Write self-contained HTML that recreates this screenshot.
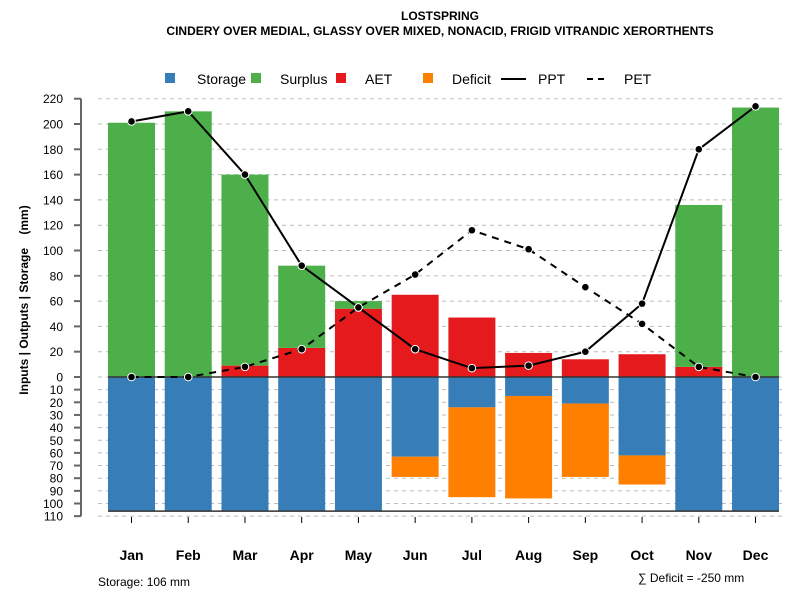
<!DOCTYPE html>
<html><head><meta charset="utf-8"><style>
body{margin:0;background:#fff}
svg text{font-family:"Liberation Sans",sans-serif}
</style></head><body>
<svg id="c" width="800" height="600" xmlns="http://www.w3.org/2000/svg">
<text x="440" y="20" text-anchor="middle" font-size="12" font-weight="bold">LOSTSPRING</text>
<text x="440" y="35" text-anchor="middle" font-size="12" font-weight="bold">CINDERY OVER MEDIAL, GLASSY OVER MIXED, NONACID, FRIGID VITRANDIC XERORTHENTS</text>
<g font-size="14">
<rect x="165" y="73" width="10" height="10" fill="#377eb8"/>
<text x="197" y="84">Storage</text>
<rect x="251" y="73" width="10" height="10" fill="#4daf4a"/>
<text x="280" y="84">Surplus</text>
<rect x="336" y="73" width="10" height="10" fill="#e41a1c"/>
<text x="365" y="84">AET</text>
<rect x="423" y="73" width="10" height="10" fill="#ff7f00"/>
<text x="452" y="84">Deficit</text>
<line x1="501" y1="79" x2="526" y2="79" stroke="#000" stroke-width="2"/>
<text x="538" y="84">PPT</text>
<line x1="587" y1="79" x2="609" y2="79" stroke="#000" stroke-width="2" stroke-dasharray="6,5"/>
<text x="624" y="84">PET</text>
</g>
<text transform="translate(28,300) rotate(-90)" text-anchor="middle" font-size="12" font-weight="bold">Inputs | Outputs | Storage &#160;&#160;&#160;(mm)</text>
<text x="98" y="586" font-size="12">Storage: 106 mm</text>
<text x="638" y="582" font-size="12">∑ Deficit = -250 mm</text>
<g id="grid"></g><g id="bars"></g><g id="lines"></g><g id="axes"></g>
</svg>
<script>
const months=["Jan","Feb","Mar","Apr","May","Jun","Jul","Aug","Sep","Oct","Nov","Dec"];
const aet=[0,0,9,23,54,65,47,19,14,18,8,0];
const surplus=[201,210,151,65,6,0,0,0,0,0,128,213];
const storage=[106,106,106,106,106,63,24,15,21,62,106,106];
const deficit=[0,0,0,0,0,16,71,81,58,23,0,0];
const ppt=[202,210,160,88,55,22,7,9,20,58,180,214];
const pet=[0,0,8,22,55,81,116,101,71,42,8,0];
const posTicks=[0,20,40,60,80,100,120,140,160,180,200,220];
const negTicks=[10,20,30,40,50,60,70,80,90,100,110];
const NS="http://www.w3.org/2000/svg";
const y0=377,k=1.265;
const yv=v=>y0-v*k;
const xc=i=>131.5+i*56.73;
const bw=47;
function mk(p,t,a){const e=document.createElementNS(NS,t);for(const q in a)e.setAttribute(q,a[q]);p.appendChild(e);return e;}
const G=document.getElementById('grid'),B=document.getElementById('bars'),L=document.getElementById('lines'),A=document.getElementById('axes');
const allTicks=posTicks.map(v=>[v,v]).concat(negTicks.map(v=>[-v,v]));
allTicks.forEach(([v,lab])=>{
 const y=yv(v);
 const g=mk(G,'line',{x1:98,x2:782,y1:y,y2:y,stroke:'#bbb','stroke-dasharray':'4,4'});
 
 
 const t=mk(A,'line',{x1:74,x2:81,y1:y,y2:y,stroke:'#666','stroke-width':2});
 
 
 const tx=mk(A,'text',{x:63,y:y+4.5,'text-anchor':'end','font-size':12});
 tx.textContent=lab;
 
 
});
const ax=mk(A,'line',{x1:81,x2:81,y1:yv(220),y2:yv(-110),stroke:'#666','stroke-width':2});


months.forEach((m,i)=>{
 const x=xc(i)-bw/2;
 const r1=mk(B,'rect',{x:x,y:yv(aet[i]),width:bw,height:aet[i]*k,fill:'#e41a1c'});
 
 
 const r2=mk(B,'rect',{x:x,y:yv(aet[i]+surplus[i]),width:bw,height:surplus[i]*k,fill:'#4daf4a'});
 
 
 const r3=mk(B,'rect',{x:x,y:y0,width:bw,height:storage[i]*k,fill:'#377eb8'});
 
 
 const r4=mk(B,'rect',{x:x,y:yv(-storage[i]),width:bw,height:deficit[i]*k,fill:'#ff7f00'});
 
 
 const t=mk(A,'line',{x1:xc(i),x2:xc(i),y1:517,y2:523,stroke:'#000'});
 
 
 const tx=mk(A,'text',{x:xc(i),y:560,'text-anchor':'middle','font-size':14,'font-weight':'bold'});
 tx.textContent=m;
 
 
});
const zl=mk(B,'line',{x1:108,x2:779,y1:y0,y2:y0,stroke:'#333','stroke-width':1.5});


const bl=mk(B,'line',{x1:108,x2:779,y1:yv(-106),y2:yv(-106),stroke:'#333','stroke-width':1.5});


function series(arr,name,dash){
 const pts=arr.map((v,i)=>xc(i)+','+yv(v)).join(' ');
 const pl=mk(L,'polyline',{points:pts,fill:'none',stroke:'#000','stroke-width':2,'stroke-dasharray':dash});
 
 
 arr.forEach((v,i)=>{
  const c=mk(L,'circle',{cx:xc(i),cy:yv(v),r:3.8,fill:'#000',stroke:'#fff','stroke-width':1});
  
  
 });
}
series(pet,'pet','7,6');
series(ppt,'ppt','none');
</script>
</body></html>
